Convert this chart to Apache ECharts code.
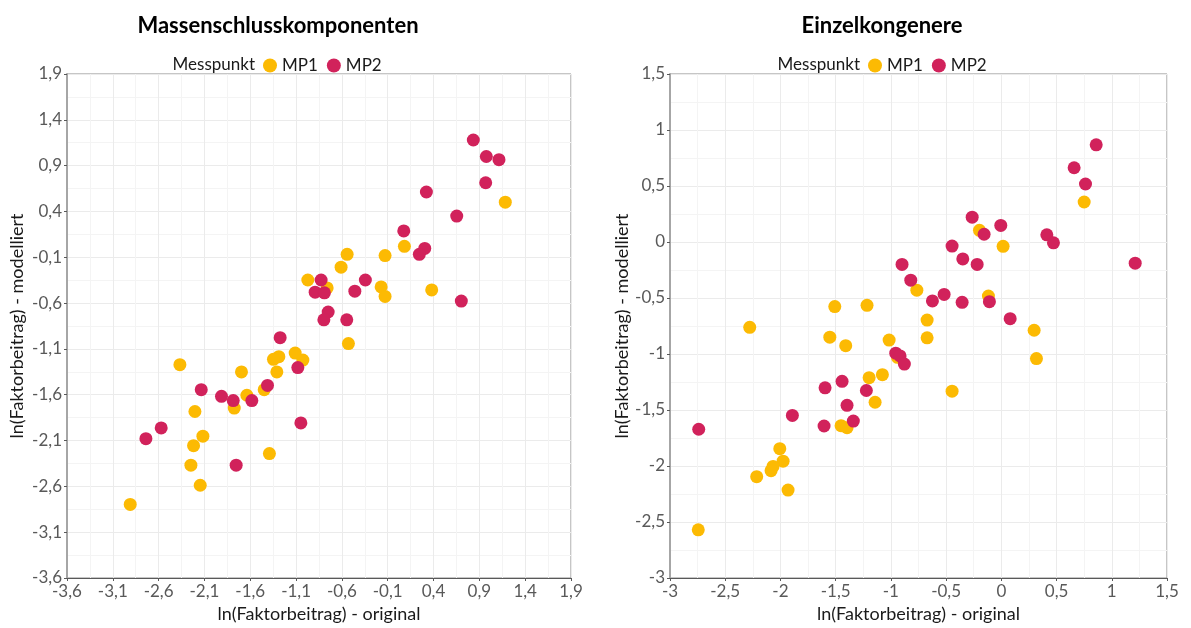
<!DOCTYPE html>
<html>
<head>
<meta charset="utf-8">
<script src="https://cdn.jsdelivr.net/npm/echarts@6/dist/echarts.min.js"></script>
<style>
  html, body { margin: 0; padding: 0; background: #fff; }
  #main { width: 1191px; height: 628px; }
</style>
</head>
<body>
<div id="main"></div>
<script>
// Massenschlusskomponenten, [original, modelliert]
var massMP1 = [
  [1.183, 0.501], [0.082, 0.019], [-0.543, -0.068], [-0.129, -0.082], [-0.609, -0.208],
  [-0.972, -0.348], [-0.761, -0.434], [-0.172, -0.424], [-0.129, -0.527], [0.38, -0.456],
  [-0.529, -1.042], [-1.11, -1.146], [-1.026, -1.222], [-1.288, -1.185], [-1.347, -1.214],
  [-1.31, -1.351], [-2.368, -1.272], [-1.696, -1.351], [-1.448, -1.545], [-1.637, -1.606],
  [-1.775, -1.746], [-2.204, -1.783], [-2.117, -2.052], [-2.219, -2.156], [-1.391, -2.242],
  [-2.248, -2.369], [-2.146, -2.588], [-2.91, -2.797]
];
var massMP2 = [
  [0.834, 1.18], [0.976, 1.0], [1.114, 0.965], [0.969, 0.713], [0.322, 0.612],
  [0.653, 0.35], [0.075, 0.188], [0.304, -0.003], [0.245, -0.068], [-0.827, -0.348],
  [-0.892, -0.481], [-0.791, -0.488], [-0.344, -0.348], [-0.459, -0.47], [0.703, -0.578],
  [-0.75, -0.697], [-0.797, -0.783], [-0.547, -0.783], [-1.274, -0.977], [-1.081, -1.304],
  [-1.412, -1.498], [-2.135, -1.545], [-1.914, -1.617], [-1.786, -1.664], [-1.583, -1.664],
  [-1.048, -1.908], [-2.572, -1.962], [-2.739, -2.08], [-1.754, -2.369]
];
// Einzelkongenere
var kongMP1 = [
  [0.75, 0.357], [-0.198, 0.104], [0.016, -0.039], [-0.765, -0.43], [-0.117, -0.482],
  [0.297, -0.788], [0.318, -1.041], [-1.508, -0.577], [-1.216, -0.565], [-2.278, -0.762],
  [-1.553, -0.85], [-1.409, -0.926], [-1.016, -0.876], [-0.672, -0.697], [-0.672, -0.856],
  [-0.94, -1.03], [-1.197, -1.211], [-1.077, -1.185], [-0.446, -1.332], [-1.143, -1.431],
  [-1.451, -1.64], [-1.397, -1.658], [-2.006, -1.845], [-1.976, -1.957], [-2.067, -2.004],
  [-2.085, -2.042], [-2.215, -2.095], [-1.931, -2.215], [-2.744, -2.57]
];
var kongMP2 = [
  [0.859, 0.868], [0.659, 0.663], [0.762, 0.518], [-0.264, 0.222], [-0.156, 0.069],
  [-0.005, 0.148], [-0.446, -0.036], [0.412, 0.064], [0.472, -0.007], [-0.349, -0.151],
  [-0.219, -0.2], [-0.899, -0.2], [1.212, -0.189], [-0.82, -0.341], [-0.518, -0.468],
  [-0.624, -0.526], [-0.355, -0.539], [-0.108, -0.533], [0.08, -0.685], [-0.956, -0.993],
  [-0.917, -1.017], [-0.878, -1.09], [-1.442, -1.244], [-1.596, -1.302], [-1.222, -1.326],
  [-1.397, -1.458], [-1.892, -1.548], [-1.34, -1.599], [-1.605, -1.643], [-2.74, -1.672]
];
var titles = ['Massenschlusskomponenten', 'Einzelkongenere'];
var massRange = [-3.6, 1.9];
var kongRange = [-3, 1.5];

var FONT = 'Lato';
var colMP1 = '#FCBA03';
var colMP2 = '#D1225B';

function fmt(v) {
  return String(Math.round(v * 10) / 10).replace('.', ',');
}

function axis(kind, idx, range, name, gap) {
  return {
    type: 'value', gridIndex: idx,
    min: range[0], max: range[1], interval: 0.5,
    name: name, nameLocation: 'middle', nameGap: gap,
    nameTextStyle: { color: '#1a1a1a', fontSize: 18, fontFamily: FONT },
    axisLine: { show: true, onZero: false,
      lineStyle: kind === 'y' ? { color: '#a6a6a6', width: 2 } : { color: '#595959', width: 1 } },
    axisTick: { show: true, length: 3, lineStyle: { color: '#595959' } },
    axisLabel: { formatter: fmt, color: '#595959', fontSize: 17, fontFamily: FONT, margin: 5 },
    splitLine: { show: true, lineStyle: { color: '#ebebeb' } },
    minorTick: { show: false, splitNumber: 2 },
    minorSplitLine: { show: true, lineStyle: { color: '#f4f4f4' } }
  };
}

function scatter(name, idx, data, color) {
  return {
    type: 'scatter', name: name, xAxisIndex: idx, yAxisIndex: idx,
    data: data, symbolSize: 13,
    itemStyle: { color: color, opacity: 1 }
  };
}

var legendBase = {
  data: ['MP1', 'MP2'], icon: 'circle', itemWidth: 14, itemHeight: 14, itemGap: 9, top: 52,
  textStyle: { fontSize: 17, color: '#1a1a1a', fontFamily: FONT }
};

var myChart = echarts.init(document.getElementById('main'));
var option = {
  backgroundColor: '#fff',
  animation: false,
  title: [
    { text: titles[0], left: 273, top: 10, textAlign: 'center',
      textStyle: { fontSize: 22, fontWeight: 'bold', color: '#000', fontFamily: FONT } },
    { text: titles[1], left: 877, top: 10, textAlign: 'center',
      textStyle: { fontSize: 22, fontWeight: 'bold', color: '#000', fontFamily: FONT } },
    { text: 'Messpunkt', right: 931, top: 51,
      textStyle: { fontSize: 17, fontWeight: 'normal', color: '#1a1a1a', fontFamily: FONT } },
    { text: 'Messpunkt', right: 326, top: 51,
      textStyle: { fontSize: 17, fontWeight: 'normal', color: '#1a1a1a', fontFamily: FONT } }
  ],
  legend: [
    Object.assign({ left: 258 }, legendBase),
    Object.assign({ left: 863 }, legendBase)
  ],
  grid: [
    { left: 67, right: 620, top: 74, bottom: 43, show: true, borderColor: '#8c8c8c', borderWidth: 1 },
    { left: 670, right: 24, top: 74, bottom: 43, show: true, borderColor: '#8c8c8c', borderWidth: 1 }
  ],
  xAxis: [
    axis('x', 0, massRange, 'ln(Faktorbeitrag) - original', 27),
    axis('x', 1, kongRange, 'ln(Faktorbeitrag) - original', 27)
  ],
  yAxis: [
    axis('y', 0, massRange, 'ln(Faktorbeitrag) - modelliert', 41),
    axis('y', 1, kongRange, 'ln(Faktorbeitrag) - modelliert', 35)
  ],
  series: [
    scatter('MP1', 0, massMP1, colMP1),
    scatter('MP2', 0, massMP2, colMP2),
    scatter('MP1', 1, kongMP1, colMP1),
    scatter('MP2', 1, kongMP2, colMP2)
  ]
};
myChart.setOption(option);
</script>
</body>
</html>
